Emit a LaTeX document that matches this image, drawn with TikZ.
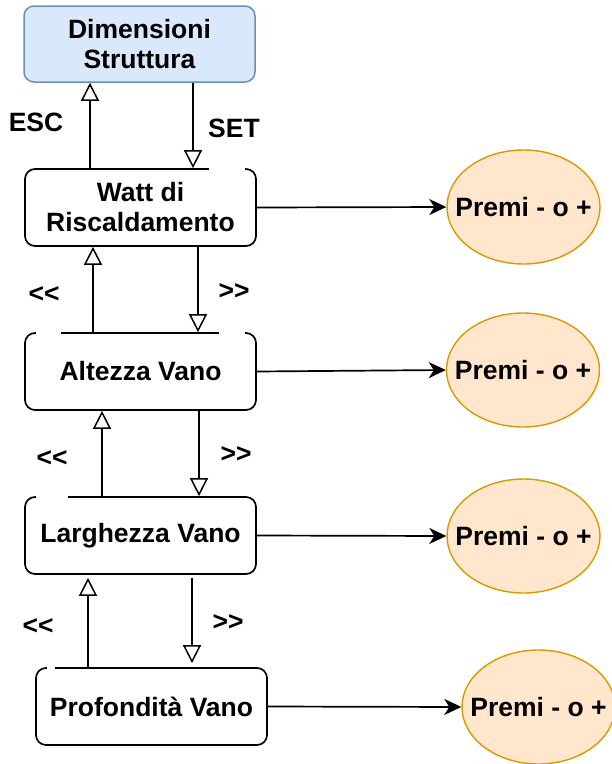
\documentclass[tikz,border=0pt]{standalone}
\usepackage{fontspec}
\setmainfont{Liberation Sans}
\usetikzlibrary{arrows.meta,shapes.geometric}
\definecolor{bluefill}{HTML}{DAE8FC}
\definecolor{blueline}{HTML}{6C8EBF}
\definecolor{orfill}{HTML}{FFE6CC}
\definecolor{orline}{HTML}{D79B00}
\tikzset{
  box/.style={draw=black, line width=1.7pt, rounded corners=10pt, minimum width=231pt, minimum height=77pt, align=center, inner sep=0pt, font=\bfseries\fontsize{26.5}{30}\selectfont},
  topbox/.style={box, fill=bluefill, draw=blueline, line width=1.5pt, minimum height=76pt},
  oval/.style={ellipse, draw=orline, fill=orfill, line width=1.4pt, minimum width=153pt, minimum height=114pt, inner sep=0pt, font=\bfseries\fontsize{26.5}{30}\selectfont},
  lbl/.style={font=\bfseries\fontsize{26.5}{30}\selectfont, inner sep=0pt},
  openarrow/.style={line width=1.7pt, -{Triangle[open, length=18pt, width=18pt, line width=1.5pt]}},
  solidarrow/.style={line width=1.7pt, -{Stealth[length=17pt, width=16pt, inset=5pt]}},
  eraser/.style={draw=white, line width=4pt}
}
\newcommand{\zw}[1]{\makebox[0pt]{#1}}
\begin{document}
\begin{tikzpicture}[x=1pt, y=-1pt]
\useasboundingbox (0,0) rectangle (612,764);

\node[topbox] (dim) at (139.5,44) {Dimensioni\\Struttura};
\node[box] (watt) at (140.5,207.5) {Watt di\\Riscaldamento};
\node[box] (alt) at (140.5,371.5) {Altezza Vano};
\node[box] (larg) at (140.5,535.5) {Larghezza Vano};
\node[box] (prof) at (151.5,706.5) {Profondità Vano};

\node[oval] (e1) at (523.5,207) {\zw{Premi - o +}};
\node[oval] (e2) at (523,370) {\zw{Premi - o +}};
\node[oval] (e3) at (523.5,536) {\zw{Premi - o +}};
\node[oval] (e4) at (538.5,707) {\zw{Premi - o +}};

% gaps in the top edges of the boxes
\draw[eraser] ([xshift=68.5pt]watt.north) -- ([xshift=104pt]watt.north);
\draw[eraser] ([xshift=-104.5pt]alt.north) -- ([xshift=-79.5pt]alt.north);
\draw[eraser] ([xshift=78.5pt]alt.north) -- ([xshift=104.5pt]alt.north);
\draw[eraser] ([xshift=-104.5pt]larg.north) -- ([xshift=-72.5pt]larg.north);
\draw[eraser] ([xshift=-104.5pt]prof.north) -- ([xshift=-96.5pt]prof.north);

% labels
\node[lbl] (esc) at (36,122) {ESC};
\node[lbl] (set) at (234,128) {SET};
\node[lbl] (l1) at (44,295) {{<}{<}};
\node[lbl] (r1) at (234,292) {{>}{>}};
\node[lbl] (l2) at (52,459) {{<}{<}};
\node[lbl] (r2) at (236,455) {{>}{>}};
\node[lbl] (l3) at (38,627) {{<}{<}};
\node[lbl] (r3) at (228,623) {{>}{>}};

% vertical connectors
\draw[openarrow] ([xshift=-50.5pt]watt.north) -- ([xshift=-49.5pt]dim.south);
\draw[openarrow] ([xshift=53.5pt]dim.south) -- ([xshift=52.5pt]watt.north);
\draw[openarrow] ([xshift=-47.5pt]alt.north) -- ([xshift=-47.5pt]watt.south);
\draw[openarrow] ([xshift=57.5pt]watt.south) -- ([xshift=57.5pt]alt.north);
\draw[openarrow] ([xshift=-38.5pt]larg.north) -- ([xshift=-38.5pt]alt.south);
\draw[openarrow] ([xshift=58.5pt]alt.south) -- ([xshift=58.5pt]larg.north);
\draw[openarrow] ([xshift=-63.5pt]prof.north) -- ([xshift=-52.5pt,yshift=-3pt]larg.south);
\draw[openarrow] ([xshift=51.5pt,yshift=-3pt]larg.south) -- ([xshift=40.5pt,yshift=4pt]prof.north);

% horizontal connectors
\draw[solidarrow] (watt.east) -- (e1.west);
\draw[solidarrow] (alt.east) -- (e2.west);
\draw[solidarrow] (larg.east) -- (e3.west);
\draw[solidarrow] (prof.east) -- (e4.west);
\end{tikzpicture}
\end{document}
